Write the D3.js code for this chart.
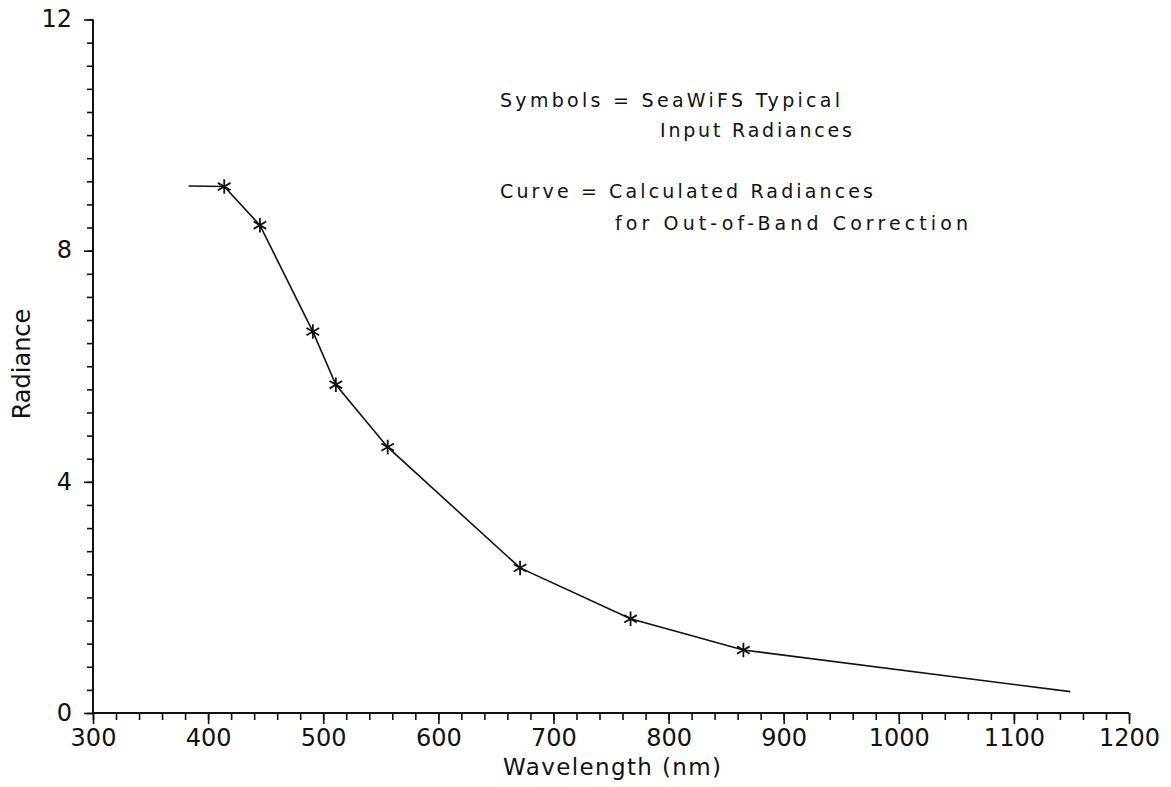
<!DOCTYPE html>
<html>
<head>
<meta charset="utf-8">
<script src="https://cdn.jsdelivr.net/npm/d3@7"></script>
<style>
  html, body { margin: 0; padding: 0; background: #fff; }
  text { font-family: "DejaVu Sans", "Liberation Sans", sans-serif; fill: #111; }
</style>
</head>
<body>
<div id="chart"></div>
<script>
// symbols: SeaWiFS typical input radiances
const bandWavelengths = [414, 445, 491, 511, 556, 671, 767, 865];
const bandRadiances = [9.11, 8.44, 6.60, 5.68, 4.60, 2.51, 1.63, 1.09];

// curve: calculated radiances for out-of-band correction
const curveWavelengths = [383, 414, 445, 491, 511, 556, 671, 767, 865, 1149];
const curveRadiances = [9.12, 9.11, 8.44, 6.60, 5.68, 4.60, 2.51, 1.63, 1.09, 0.37];

const xTicks = [300, 400, 500, 600, 700, 800, 900, 1000, 1100, 1200];
const yTicks = [0, 4, 8, 12];

const width = 1171, height = 787;
const margin = { left: 93, right: 42, top: 19.5, bottom: 74 };

const svg = d3.select('#chart')
  .append('svg')
  .attr('width', width)
  .attr('height', height)
  .attr('viewBox', [0, 0, width, height]);

const x = d3.scaleLinear().domain([300, 1200]).range([margin.left, width - margin.right]);
const y = d3.scaleLinear().domain([0, 12]).range([height - margin.bottom, margin.top]);

// x axis: major every 100, minor every 20, ticks pointing down
const xAxis = svg.append('g').attr('transform', `translate(0,${y(0)})`);
xAxis.append('g')
  .call(d3.axisBottom(x).tickValues(d3.range(300, 1201, 20)).tickSize(7).tickFormat(''))
  .call(g => g.select('.domain').remove())
  .call(g => g.selectAll('line').attr('stroke', '#111').attr('stroke-width', 1.6));
xAxis.append('g')
  .call(d3.axisBottom(x).tickValues(xTicks).tickSize(11).tickPadding(5).tickFormat(d3.format('d')))
  .call(g => g.select('.domain').remove())
  .call(g => g.selectAll('line').attr('stroke', '#111').attr('stroke-width', 1.6))
  .call(g => g.selectAll('text').attr('font-size', 24).attr('fill', '#111').attr('font-family', null));
xAxis.append('line')
  .attr('x1', x(300)).attr('x2', x(1200))
  .attr('stroke', '#111').attr('stroke-width', 2);

// y axis: major every 4, minor every 0.4, ticks pointing left
const yAxis = svg.append('g').attr('transform', `translate(${x(300)},0)`);
yAxis.append('g')
  .call(d3.axisLeft(y).tickValues(d3.range(0, 12.01, 0.4)).tickSize(6).tickFormat(''))
  .call(g => g.select('.domain').remove())
  .call(g => g.selectAll('line').attr('stroke', '#111').attr('stroke-width', 1.6));
yAxis.append('g')
  .call(d3.axisLeft(y).tickValues(yTicks).tickSize(9).tickPadding(12).tickFormat(d3.format('d')))
  .call(g => g.select('.domain').remove())
  .call(g => g.selectAll('line').attr('stroke', '#111').attr('stroke-width', 1.6))
  .call(g => g.selectAll('text').attr('font-size', 24).attr('fill', '#111').attr('font-family', null).attr('dy', '0.3em'));
yAxis.append('line')
  .attr('y1', y(0)).attr('y2', y(12))
  .attr('stroke', '#111').attr('stroke-width', 2);

// axis titles
svg.append('text')
  .attr('x', 612).attr('y', 775)
  .attr('text-anchor', 'middle')
  .attr('font-size', 23)
  .attr('textLength', 218).attr('lengthAdjust', 'spacing')
  .text('Wavelength (nm)');

svg.append('text')
  .attr('transform', 'translate(30,364) rotate(-90)')
  .attr('text-anchor', 'middle')
  .attr('font-size', 24)
  .text('Radiance');

// curve
const line = d3.line().x(d => x(d[0])).y(d => y(d[1]));
svg.append('path')
  .datum(d3.zip(curveWavelengths, curveRadiances))
  .attr('d', line)
  .attr('fill', 'none')
  .attr('stroke', '#111')
  .attr('stroke-width', 1.6);

// asterisk symbols
const star = d3.symbol().type(d3.symbolAsterisk).size(150);
svg.append('g')
  .selectAll('path')
  .data(d3.zip(bandWavelengths, bandRadiances))
  .join('path')
  .attr('transform', d => `translate(${x(d[0])},${y(d[1])})`)
  .attr('d', star)
  .attr('fill', 'none')
  .attr('stroke', '#111')
  .attr('stroke-width', 1.8);

// annotation text
const notes = [
  { text: 'Symbols = SeaWiFS Typical', x: 500, y: 107, len: 340 },
  { text: 'Input Radiances', x: 660, y: 137, len: 192 },
  { text: 'Curve = Calculated Radiances', x: 500, y: 198, len: 373 },
  { text: 'for Out-of-Band Correction', x: 615, y: 230, len: 353 }
];
svg.append('g')
  .selectAll('text')
  .data(notes)
  .join('text')
  .attr('x', d => d.x).attr('y', d => d.y)
  .attr('font-size', 19)
  .attr('textLength', d => d.len).attr('lengthAdjust', 'spacing')
  .text(d => d.text);
</script>
</body>
</html>
